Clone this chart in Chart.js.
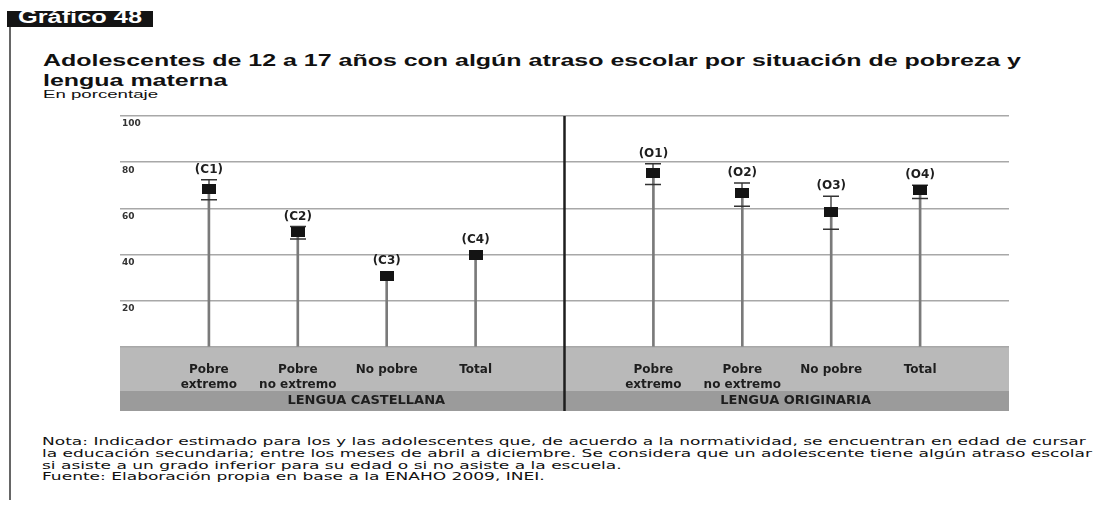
<!DOCTYPE html>
<html>
<head>
<meta charset="utf-8">
<script src="https://cdn.jsdelivr.net/npm/chart.js@4.4.0/dist/chart.umd.min.js"></script>
<style>
  body { margin: 0; background: #fff; width: 1110px; height: 508px; overflow: hidden; position: relative; font-family: "Liberation Sans", Arial, sans-serif; }
  #tag { position: absolute; left: 7px; top: 11px; width: 146px; height: 16px; background: #141414; overflow: hidden; }
  #tag span { position: absolute; left: 11px; top: -4px; color: #fff; font-weight: bold; font-size: 18px; line-height: 20px; white-space: nowrap; transform-origin: left top; }
  #rule { position: absolute; left: 9px; top: 27px; width: 2px; height: 473px; background: #666; }
  .fit { position: absolute; white-space: nowrap; transform-origin: left top; }
  #title { left: 43px; top: 51px; font-weight: bold; font-size: 17px; line-height: 20px; color: #111; }
  #sub { left: 43px; top: 88px; font-size: 11.5px; line-height: 13px; color: #111; }
  #notes { left: 42px; top: 436px; font-family: "DejaVu Sans", sans-serif; font-size: 10.8px; line-height: 11.8px; color: #111; }
  #wrap { position: absolute; left: 0; top: 100px; width: 1110px; height: 320px; }
</style>
</head>
<body>
<div id="tag"><span class="fit" id="tagtext">Gráfico 48</span></div>
<div id="rule"></div>
<div class="fit" id="title">
  <div>Adolescentes de 12 a 17 años con algún atraso escolar por situación de pobreza y</div>
  <div>lengua materna</div>
</div>
<div class="fit" id="sub">En porcentaje</div>
<div id="wrap"><canvas id="myChart" width="1110" height="320"></canvas></div>
<div class="fit" id="notes">
  <div>Nota: Indicador estimado para los y las adolescentes que, de acuerdo a la normatividad, se encuentran en edad de cursar</div>
  <div>la educación secundaria; entre los meses de abril a diciembre. Se considera que un adolescente tiene algún atraso escolar</div>
  <div>si asiste a un grado inferior para su edad o si no asiste a la escuela.</div>
  <div>Fuente: Elaboración propia en base a la ENAHO 2009, INEI.</div>
</div>

<script>
// data
var tickLabels = [['Pobre', 'extremo'], ['Pobre', 'no extremo'], 'No pobre', 'Total',
                  ['Pobre', 'extremo'], ['Pobre', 'no extremo'], 'No pobre', 'Total'];
var pointLabels = ['(C1)', '(C2)', '(C3)', '(C4)', '(O1)', '(O2)', '(O3)', '(O4)'];
var groups = ['LENGUA CASTELLANA', 'LENGUA ORIGINARIA'];
var values = [68.4, 49.6, 30.7, 39.7, 75.5, 66.5, 58.3, 68.1];
var lowerCI = [63.7, 46.7, null, null, 70.4, 60.9, 51.0, 64.3];
var upperCI = [72.4, 52.2, null, null, 79.3, 71.0, 65.3, 70.0];
var yTicks = [0, 20, 40, 60, 80, 100];

// stretch text blocks horizontally (the source picture is wide)
function stretch(id, w) {
  var el = document.getElementById(id);
  el.style.transform = 'scaleX(' + (w / el.getBoundingClientRect().width) + ')';
}
stretch('tagtext', 124);
stretch('title', 978);
stretch('sub', 115);
stretch('notes', 1050);

// slot on the x axis: four per group, one empty slot between groups
function slotX(i) { return i < 4 ? i + 1 : i + 2; }
var slots = values.map(function (v, i) { return slotX(i); });
var points = values.map(function (v, i) { return { x: slotX(i), y: v }; });

var marker = document.createElement('canvas');
marker.width = 14; marker.height = 10;
var mctx = marker.getContext('2d');
mctx.fillStyle = '#141414';
mctx.fillRect(0, 0, 14, 10);

var bands = {
  id: 'bands',
  beforeDraw: function (chart) {
    var ctx = chart.ctx, a = chart.chartArea, x = chart.scales.x;
    ctx.save();
    ctx.fillStyle = '#b9b9b9';
    ctx.fillRect(a.left, x.top, a.right - a.left, 44);
    ctx.fillStyle = '#9b9b9b';
    ctx.fillRect(a.left, x.top + 44, a.right - a.left, x.bottom - x.top - 44);
    ctx.fillStyle = '#1e1e1e';
    ctx.font = 'bold 13px "DejaVu Sans"';
    ctx.textAlign = 'center';
    ctx.textBaseline = 'middle';
    ctx.fillText(groups[0], x.getPixelForValue(2.77), x.top + 54);
    ctx.fillText(groups[1], x.getPixelForValue(7.6), x.top + 54);
    ctx.restore();
  },
  afterDraw: function (chart) {
    var ctx = chart.ctx, a = chart.chartArea, x = chart.scales.x;
    var px = x.getPixelForValue(5);
    ctx.save();
    ctx.strokeStyle = '#1e1e1e';
    ctx.lineWidth = 2.5;
    ctx.beginPath();
    ctx.moveTo(px, a.top);
    ctx.lineTo(px, x.bottom);
    ctx.stroke();
    ctx.restore();
  }
};

var whiskers = {
  id: 'whiskers',
  afterDatasetDraw: function (chart, args) {
    if (args.index !== 0) return;
    var ctx = chart.ctx, x = chart.scales.x, y = chart.scales.y;
    ctx.save();
    values.forEach(function (v, i) {
      if (lowerCI[i] == null) return;
      var px = Math.round(x.getPixelForValue(slotX(i)));
      var lo = y.getPixelForValue(lowerCI[i]), hi = y.getPixelForValue(upperCI[i]);
      ctx.strokeStyle = '#7a7a7a';
      ctx.lineWidth = 2;
      ctx.beginPath(); ctx.moveTo(px, lo); ctx.lineTo(px, hi); ctx.stroke();
      ctx.strokeStyle = '#333';
      ctx.lineWidth = 1.5;
      ctx.beginPath();
      ctx.moveTo(px - 8, lo); ctx.lineTo(px + 8, lo);
      ctx.moveTo(px - 8, hi); ctx.lineTo(px + 8, hi);
      ctx.stroke();
    });
    ctx.restore();
  },
  afterDatasetsDraw: function (chart) {
    var ctx = chart.ctx, x = chart.scales.x, y = chart.scales.y;
    ctx.save();
    ctx.fillStyle = '#1e1e1e';
    ctx.font = 'bold 12px "DejaVu Sans"';
    ctx.textAlign = 'center';
    ctx.textBaseline = 'middle';
    values.forEach(function (v, i) {
      var top = y.getPixelForValue(v) - 5;
      if (upperCI[i] != null) top = Math.min(top, y.getPixelForValue(upperCI[i]));
      ctx.fillText(pointLabels[i], x.getPixelForValue(slotX(i)), top - 10);
    });
    ctx.restore();
  }
};

var ctx = document.getElementById('myChart').getContext('2d');
var chart = new Chart(ctx, {
  type: 'bar',
  data: {
    datasets: [{
      // stems
      type: 'bar',
      data: points,
      backgroundColor: '#7a7a7a',
      barThickness: 2,
      order: 2
    }, {
      // markers
      type: 'scatter',
      data: points,
      pointStyle: marker,
      order: 0
    }]
  },
  options: {
    responsive: false,
    animation: false,
    layout: { padding: { left: 120, right: 101, top: 16, bottom: 9 } },
    plugins: { legend: { display: false }, tooltip: { enabled: false } },
    scales: {
      x: {
        type: 'linear',
        min: 0, max: 10,
        offset: false,
        grid: { display: false },
        border: { display: false },
        afterBuildTicks: function (s) { s.ticks = slots.map(function (v) { return { value: v }; }); },
        afterFit: function (s) { s.height = 64; },
        ticks: {
          autoSkip: false,
          maxRotation: 0,
          padding: 7,
          color: '#1e1e1e',
          font: { family: 'DejaVu Sans', size: 12, weight: 'bold', lineHeight: 1.25 },
          callback: function (v) { return tickLabels[slots.indexOf(v)]; }
        }
      },
      y: {
        min: 0, max: 100,
        grid: { color: '#a8a8a8', lineWidth: 1.5, drawTicks: false },
        border: { display: false },
        afterBuildTicks: function (s) { s.ticks = yTicks.map(function (v) { return { value: v }; }); },
        afterFit: function (s) { s.width = 0; },
        ticks: {
          mirror: true,
          padding: 2,
          labelOffset: 8,
          color: '#333',
          font: { family: 'DejaVu Sans', size: 9, weight: 'bold' },
          callback: function (v) { return v === 0 ? '' : v; }
        }
      }
    }
  },
  plugins: [bands, whiskers]
});
</script>
</body>
</html>
